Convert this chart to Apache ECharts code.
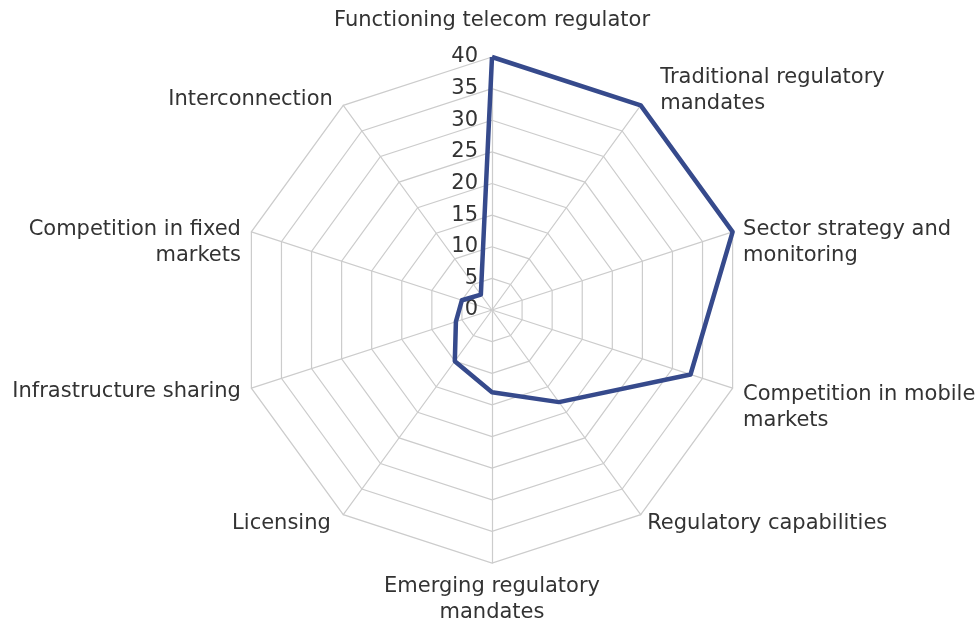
<!DOCTYPE html>
<html>
<head>
<meta charset="utf-8">
<script src="https://cdn.jsdelivr.net/npm/echarts@6/dist/echarts.min.js"></script>
<style>
  html, body { margin: 0; padding: 0; background: #fff; }
  #chart { width: 977px; height: 619px; }
</style>
</head>
<body>
<div id="chart"></div>
<script>
// indicators, clockwise from the top
var indicators = [
  'Functioning telecom regulator',
  'Traditional regulatory\nmandates',
  'Sector strategy and\nmonitoring',
  'Competition in mobile\nmarkets',
  'Regulatory capabilities',
  'Emerging regulatory\nmandates',
  'Licensing',
  'Infrastructure sharing',
  'Competition in fixed\nmarkets',
  'Interconnection'
];
var scores = [40, 40, 40, 33, 18, 13, 10, 6, 5, 3];
var maxValue = 40;
var step = 5;

var cx = 492, cy = 310, r = 253;
var font = 'DejaVu Sans';
var fs = 21;

// extra nudges for some labels (top, right, bottom, left)
var namePad = [
  [0, 0, 25, 0],
  [0, 0, 12, 13],
  [28, 0, 0, 0],
  [32, 0, 0, 0],
  [0, 0, 0, 0],
  [0, 0, 0, 0],
  [0, 6, 0, 0],
  [0, 0, 0, 0],
  [28, 0, 0, 0],
  [6, 4, 0, 0]
];

// echarts lays radar axes out counter-clockwise, so flip the order after the first one
function ccw(arr) {
  return [arr[0]].concat(arr.slice(1).reverse());
}

var rich = {};
namePad.forEach(function (p, i) {
  rich['n' + i] = { color: '#333', fontSize: fs, fontFamily: font, lineHeight: 26, padding: p };
});

var myChart = echarts.init(document.getElementById('chart'));
myChart.setOption({
  animation: false,
  radar: {
    center: [cx, cy],
    radius: r,
    startAngle: 90,
    splitNumber: maxValue / step,
    shape: 'polygon',
    nameGap: 11,
    indicator: ccw(indicators).map(function (n) { return { name: n, min: 0, max: maxValue }; }),
    axisName: {
      color: '#333', fontSize: fs, fontFamily: font, lineHeight: 26,
      formatter: function (name) {
        var i = indicators.indexOf(name);
        return name.split('\n').map(function (l) {
          return '{n' + i + '|' + l + '}';
        }).join('\n');
      },
      rich: rich
    },
    axisLine: { lineStyle: { color: '#cccccc', width: 1.2 } },
    splitLine: { lineStyle: { color: '#cccccc', width: 1.2 } },
    splitArea: { show: false },
    axisTick: { show: false },
    axisLabel: { show: false }
  },
  // tick labels on the vertical axis
  grid: { left: cx, top: cy - r, width: 1, height: r },
  xAxis: { type: 'value', show: false },
  yAxis: {
    type: 'value', min: 0, max: maxValue, interval: step,
    axisLine: { show: false }, axisTick: { show: false }, splitLine: { show: false },
    axisLabel: { color: '#333', fontSize: 21, fontFamily: font, margin: 14 }
  },
  series: [{
    type: 'radar',
    symbol: 'none',
    lineStyle: { color: '#364a8c', width: 4.5 },
    data: [{ value: ccw(scores) }]
  }]
});
</script>
</body>
</html>
